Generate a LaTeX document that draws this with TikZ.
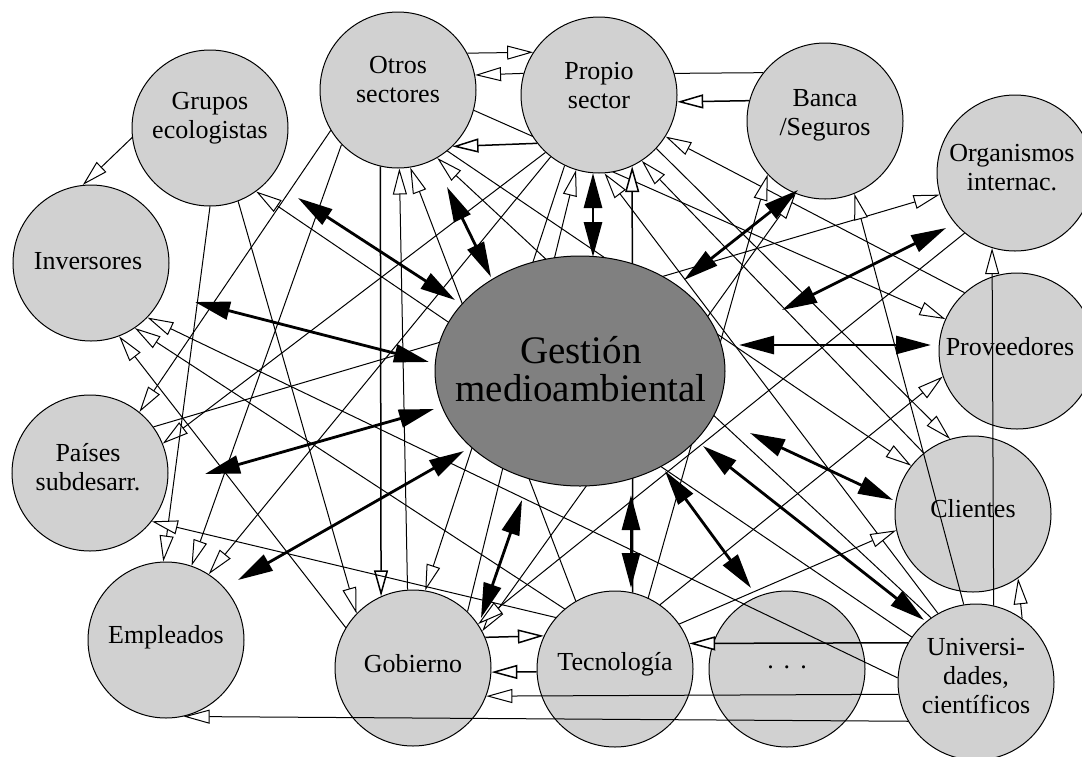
\documentclass[tikz,border=0pt]{standalone}
\usepackage{fontspec}
\setmainfont{Liberation Serif}
\usetikzlibrary{arrows.meta,shapes.geometric}
\pgfdeclarelayer{bg}
\pgfdeclarelayer{fg}
\pgfsetlayers{bg,main,fg}
\definecolor{cfill}{gray}{0.82}
\definecolor{efill}{gray}{0.5}
\tikzset{
 circ/.style={circle,draw=black,line width=1pt,fill=cfill,minimum size=156pt,inner sep=0pt},
 lab/.style={align=center,font=\fontsize{26}{29}\selectfont,inner sep=0pt},
 oarr/.style={line width=1pt,-{Triangle[length=26pt,width=14pt,fill=white]}},
 oboth/.style={line width=1pt,{Triangle[length=26pt,width=14pt,fill=white]}-{Triangle[length=26pt,width=14pt,fill=white]}},
 plainline/.style={line width=1pt},
 tarr/.style={line width=2.8pt,{Triangle[length=35pt,width=18pt]}-{Triangle[length=35pt,width=18pt]}},
}
\begin{document}
\begin{tikzpicture}[x=1pt,y=-1pt]
\useasboundingbox (0,0) rectangle (1082,756);
\begin{pgfonlayer}{bg}
\fill[white] (0,0) rectangle (1082,756);
\end{pgfonlayer}
% stakeholder circles
\node[circ] (grp) at (210,128) {};
\node[circ] (otr) at (398,90) {};
\node[circ] (pro) at (599,95) {};
\node[circ] (ban) at (825,121) {};
\node[circ] (org) at (1015,173) {};
\node[circ] (inv) at (91,263) {};
\node[circ] (prv) at (1017,351) {};
\node[circ] (pai) at (90,473) {};
\node[circ] (cli) at (973,514) {};
\node[circ] (emp) at (166,640) {};
\node[circ] (gob) at (413,668) {};
\node[circ] (tec) at (615,669) {};
\node[circ] (dots) at (787,669) {};
\node[circ] (uni) at (976,682) {};
% labels
\node[lab] (grp-t) at (210,118) {Grupos\\ecologistas};
\node[lab] (otr-t) at (398,80) {Otros\\sectores};
\node[lab] (pro-t) at (599,86) {Propio\\sector};
\node[lab] (ban-t) at (825,115) {Banca\\/Seguros};
\node[lab] (org-t) at (1012,168) {Organismos\\internac.};
\node[lab] (inv-t) at (88,261) {Inversores};
\node[lab] (prv-t) at (1010,347) {Proveedores};
\node[lab] (pai-t) at (88,467) {Países\\subdesarr.};
\node[lab] (cli-t) at (973,509) {Clientes};
\node[lab] (emp-t) at (166,637) {Empleados};
\node[lab] (gob-t) at (413,664) {Gobierno};
\node[lab] (tec-t) at (615,664) {Tecnología};
\node[lab] (dots-t) at (787,667) {.\hspace{10pt}.\hspace{10pt}.};
\node[lab] (uni-t) at (976,676) {Universi-\\dades,\\científicos};
% central ellipse
\node[ellipse,draw=black,line width=1pt,fill=efill,minimum width=290pt,minimum height=230pt,inner sep=0pt] (gest) at (580,371) {};
\node[align=center,font=\fontsize{39}{38}\selectfont,inner sep=0pt] (gest-t) at (581,369) {Gestión\\medioambiental};
% thin connectors behind the shapes
\begin{pgfonlayer}{bg}
\draw[oarr] (grp.187) -- (inv.96);
\draw[oarr] (otr.28.3) -- (pro.147.4);
\draw[oarr] (pro.164.4) -- (otr.11.8);
\draw[oarr,line width=1.5pt] (pro.218) -- (otr.314);
\draw[oarr,line width=1.5pt] (ban.165.9) -- (pro.-5.1);
\draw[plainline] (pro.16.4) -- (ban.142);
\draw[oarr] (otr.-15) -- (prv.156);
\draw[oarr] (pro.227) -- (pai.22.6);
\draw[oarr] (pro.232.6) -- (emp.57.4);
\draw[oarr] (otr.211) -- (pai.51);
\draw[oarr] (otr.224.5) -- (emp.71.6);
\draw[oarr] (grp.270) -- (emp.92);
\draw[oarr] (grp.291) -- (gob.136);
\draw[oarr,line width=1.5pt] (otr.257.4) -- (gob.114.2);
\draw[oarr] (gob.94.4) -- (otr.271.5);
\draw[oarr] (tec.120.8) -- (otr.279);
\draw[oarr] (uni.125) -- (otr.300.5);
\draw[oarr] (otr.309) -- (cli.142);
\draw[oarr] (pro.317) -- (cli.107.4);
\draw[oarr] (cli.129) -- (pro.303);
\draw[oarr] (prv.132) -- (pro.328);
\draw[oarr] (uni.119.4) -- (pro.274.4);
\draw[oarr,line width=1.5pt] (tec.77.4) -- (pro.295);
\draw[oarr] (gob.46) -- (pro.253.6);
\draw[oarr] (pro.244.7) -- (gob.81);
\draw[oboth] (gob.28) -- (ban.248.5);
\draw[oarr] (org.230.8) -- (gob.34);
\draw[oarr] (tec.65) -- (ban.223);
\draw[oarr] (pai.36.7) -- (org.196.3);
\draw[oarr] (tec.55.7) -- (prv.199);
\draw[oarr] (tec.35) -- (cli.192.5);
\draw[oarr] (tec.139.8) -- (pai.322.3);
\draw[oarr] (tec.130.7) -- (inv.304);
\draw[oarr] (gob.149) -- (inv.291.4);
\draw[oarr] (uni.145) -- (grp.306);
\draw[oarr,line width=1.5pt] (gob.23.4) -- (tec.155.8);
\draw[oarr,line width=1.5pt] (tec.182.2) -- (gob.357.1);
\end{pgfonlayer}
% thin connectors drawn over the circles
\begin{pgfonlayer}{fg}
\draw[oarr] (uni.99.6) -- (ban.292.7);
\draw[oarr] (uni.77.4) -- (org.253.6);
\draw[oarr] (uni.54) -- (cli.305);
\draw[oarr,line width=1.5pt] (uni.150) -- (tec.19.5);
\draw[oarr] (uni.189.6) -- (gob.339.8);
\draw[oarr] (uni.210) -- (emp.283);
\draw[oarr] (uni.177) -- (inv.316.7);
% thick two-way arrows to the central node
\coordinate (a1) at (298,198); \coordinate (b1) at (455,300);
\coordinate (a2) at (447,187); \coordinate (b2) at (491,277);
\coordinate (a3) at (593,173); \coordinate (b3) at (593,257);
\coordinate (a4) at (798,190); \coordinate (b4) at (684,280);
\coordinate (a5) at (946,228); \coordinate (b5) at (782,310);
\coordinate (a6) at (931,345); \coordinate (b6) at (739,345);
\coordinate (a7) at (893,500); \coordinate (b7) at (750,433);
\coordinate (a8) at (924,620); \coordinate (b8) at (703,446);
\coordinate (a9) at (751,588); \coordinate (b9) at (665,471);
\coordinate (a10) at (631,588); \coordinate (b10) at (631,495);
\coordinate (a11) at (481,618); \coordinate (b11) at (522,500);
\coordinate (a12) at (238,580); \coordinate (b12) at (464,451);
\coordinate (a13) at (205,474); \coordinate (b13) at (434,409);
\coordinate (a14) at (195,302); \coordinate (b14) at (429,362);
\foreach \i in {1,...,14} {\draw[tarr] (a\i) -- (b\i);}
\end{pgfonlayer}
\end{tikzpicture}
\end{document}
